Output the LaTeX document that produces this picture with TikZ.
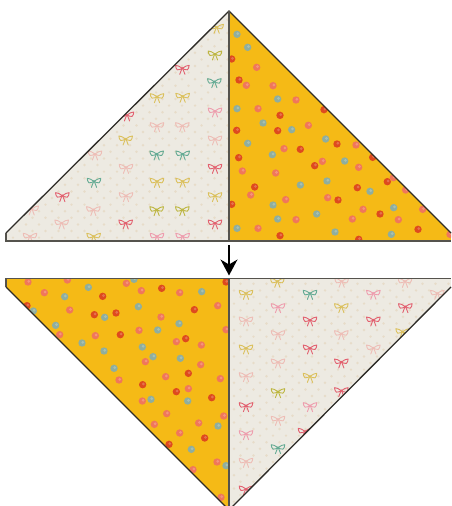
\documentclass[tikz,border=0pt]{standalone}
\usetikzlibrary{arrows.meta}
\definecolor{paper}{HTML}{EDEAE2}
\definecolor{paperdot}{HTML}{E7DCC9}
\definecolor{gold}{HTML}{F5BA16}
\definecolor{edge}{HTML}{2E2C28}
\definecolor{base}{HTML}{55534D}
\definecolor{t}{HTML}{8FAE9E}
\definecolor{r}{HTML}{DE4A1E}
\definecolor{o}{HTML}{F0775A}
\definecolor{yy}{HTML}{DBC05C}
\definecolor{ol}{HTML}{BDB640}
\definecolor{gg}{HTML}{65AB94}
\definecolor{rd}{HTML}{E2606F}
\definecolor{pk}{HTML}{EE9DAE}
\definecolor{lp}{HTML}{EDBDB6}
\tikzset{
  x=1pt,y=-1pt,
  outline/.style={draw=edge,line width=1.3pt,line join=miter},
  baseline edge/.style={draw=base,line width=1.7pt,line join=miter},
  bowline/.style={line width=.9pt,line cap=round,line join=round},
  pics/bow/.style={code={
    \draw[bowline,draw=#1] (0,-1) .. controls (-2.5,-3) and (-5,-4) .. (-6.8,-4) .. controls (-6.8,-2) and (-6,-.5) .. (-5,.5) .. controls (-3,.5) and (-1.5,0) .. (0,-1)
      .. controls (2.5,-3) and (5,-4) .. (6.8,-4) .. controls (6.8,-2) and (6,-.5) .. (5,.5) .. controls (3,.5) and (1.5,0) .. (0,-1);
    \draw[bowline,draw=#1] (-.5,-.5) .. controls (-1,1.5) and (-1.8,3) .. (-2.6,5);
    \draw[bowline,draw=#1] (.5,-.5) .. controls (1,1.5) and (1.8,3) .. (2.6,5);
    \fill[#1] (0,-1) circle (1.2);
  }}
}
\newcommand{\spots}[4]{% colour, x offset, y offset, list
  \foreach \a/\b in {#4}{
    \fill[#1] ({#2+\a/3},{#3+\b/3}) circle (3.7);
    \fill[white,opacity=.22] ({#2+\a/3+.8},{#3+\b/3-.7}) circle (1.5);
  }}
\newcommand{\bows}[4]{%
  \foreach \a/\b in {#4}{
    \pic at ({#2+\a/3},{#3+\b/3}) {bow=#1};
  }}
\newcommand{\paperdots}{%
  \foreach \i in {0,...,35}{
    \foreach \j in {0,...,78}{
      \fill[paperdot] ({\i*13+mod(\j,2)*6.5},{\j*6.6}) circle (1.35);
    }}}
\begin{document}
\begin{tikzpicture}
\useasboundingbox (0,0) rectangle (451,506);
\coordinate (TA) at (229,11);
\coordinate (TB) at (229,241);
\coordinate (TL) at (6,233);
\coordinate (TLB) at (6,241);
\coordinate (TR) at (451,233);
\coordinate (TRB) at (451,241);
\coordinate (BA) at (229,278.5);
\coordinate (BL) at (6,287);
\coordinate (BLT) at (6,278.5);
\coordinate (BR) at (451,287);
\coordinate (BRT) at (451,278.5);
\coordinate (BT) at (229,510);

% top left patch
\begin{scope}
\clip (TA) -- (TL) -- (TLB) -- (TB) -- cycle;
\fill[paper] (0,0) rectangle (451,506);
\paperdots
\bows{yy}{0}{0}{650/85,471/293,548/292,377/420,471/547,548/547,645/590,281/712}
\bows{ol}{0}{0}{645/165,470/632,547/632}
\bows{rd}{0}{0}{547/208,381/348,645/505,187/590,377/672,645/672}
\bows{gg}{0}{0}{643/248,470/465,548/465,282/547}
\bows{pk}{0}{0}{645/336,471/712,548/712}
\bows{lp}{0}{0}{471/380,547/380,645/420,285/465,378/505,378/590,95/630,280/632,185/672,90/712}
\end{scope}

% top right patch
\begin{scope}
\clip (TA) -- (TR) -- (TRB) -- (TB) -- cycle;
\fill[gold] (0,0) rectangle (451,506);
\spots{t}{225}{0}{36/103,68/142,158/297,36/326,114/369,200/389,302/417,68/430,142/464,359/483,306/543,226/555,435/574,144/615,506/623,275/642,158/657,36/685,330/696,499/703}
\spots{r}{225}{0}{20/177,42/240,297/329,165/346,35/391,158/392,336/432,226/448,41/473,443/472,269/497,487/545,89/561,397/563,339/600,20/613,465/642,579/688,165/707,401/718}
\spots{o}{225}{0}{95/202,64/256,144/257,213/300,99/326,250/376,393/435,177/446,292/484,401/502,52/513,152/519,505/533,542/570,77/585,308/593,182/599,414/628,593/628,213/659,382/657,520/659,99/685,675/703}
\end{scope}

% bottom left patch
\begin{scope}
\clip (BLT) -- (BA) -- (BT) -- (BL) -- cycle;
\fill[gold] (0,0) rectangle (451,510);
\spots{t}{0}{240}{265/142,402/118,194/170,605/155,100/213,314/232,415/200,167/256,537/251,473/270,246/309,312/333,427/321,459/350,541/355,342/385,453/478,563/483,654/558,574/628,678/677}
\spots{r}{0}{240}{308/169,485/145,678/126,81/197,283/224,348/219,583/209,361/284,557/296,565/400,428/434,529/455,635/473,614/594,507/613}
\spots{o}{0}{240}{84/126,202/120,379/130,133/158,424/152,539/158,209/210,483/231,653/197,179/284,286/287,417/271,678/269,529/305,604/315,436/365,602/374,357/420,497/410,661/416,565/446,427/483,671/528,500/521,463/553,596/549,539/579,651/666,579/689,663/772}
\end{scope}

% bottom right patch
\begin{scope}
\clip (BA) -- (BRT) -- (BR) -- (BT) -- cycle;
\fill[paper] (0,0) rectangle (451,510);
\paperdots
\bows{yy}{225}{240}{157/127,63/163,349/203,533/278,63/327,255/412}
\bows{ol}{225}{240}{159/458}
\bows{gg}{225}{240}{255/163,159/626}
\bows{rd}{225}{240}{541/203,255/243,445/243,255/327,349/369,349/455,63/500,240/577,63/750}
\bows{pk}{225}{240}{445/163,159/203,255/500,63/584}
\bows{lp}{225}{240}{350/127,540/127,637/163,63/243,159/284,349/284,445/327,159/369,63/410,159/541,63/667}
\end{scope}

% outlines
\draw[outline] (TL) -- (TA) -- (TR);
\draw[baseline edge] (TL) -- (TLB) -- (TRB);
\draw[baseline edge] (TA) -- (TB);
\draw[baseline edge] (BL) -- (BLT) -- (BRT);
\draw[outline] (BL) -- (BT) -- (BR);
\draw[baseline edge] (BA) -- (BT);

% arrow
\coordinate (AS) at (229,245);
\coordinate (AE) at (229,275.5);
\draw[line width=1.3pt,black,-{Stealth[length=16pt,width=17pt,inset=5pt]}] (AS) -- (AE);
\end{tikzpicture}
\end{document}
